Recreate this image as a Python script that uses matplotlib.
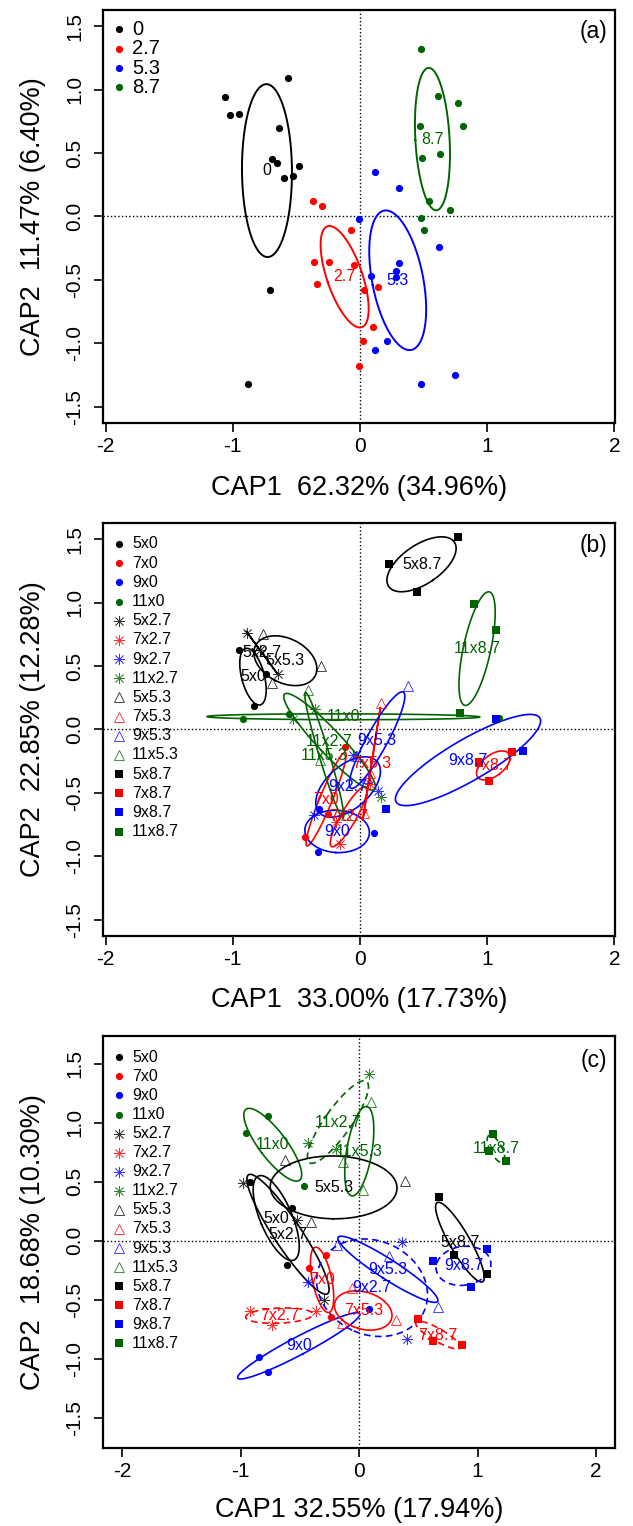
import numpy as np
import matplotlib
matplotlib.use("Agg")
import matplotlib.pyplot as plt

plt.rcParams['font.family'] = ['Liberation Sans', 'DejaVu Sans']
plt.rcParams['axes.unicode_minus'] = False

# ---------------- Panel (a): treatment groups (12 samples each) ----------------
A_GROUPS = ["0", "2.7", "5.3", "8.7"]
A0_X = [-1.06, -1.02, -0.95, -0.57, -0.64, -0.69, -0.65, -0.48, -0.60, -0.53, -0.71, -0.88]
A0_Y = [0.94, 0.80, 0.81, 1.09, 0.70, 0.45, 0.42, 0.40, 0.30, 0.32, -0.58, -1.32]
A27_X = [-0.37, -0.30, -0.07, -0.36, -0.24, -0.05, -0.34, 0.03, 0.14, 0.10, 0.02, -0.01]
A27_Y = [0.12, 0.08, -0.11, -0.36, -0.36, -0.38, -0.53, -0.58, -0.56, -0.87, -0.98, -1.18]
A53_X = [0.12, 0.31, -0.01, 0.62, 0.31, 0.28, 0.28, 0.09, 0.21, 0.12, 0.48, 0.75]
A53_Y = [0.35, 0.22, -0.02, -0.24, -0.37, -0.43, -0.48, -0.47, -0.98, -1.05, -1.32, -1.25]
A87_X = [0.48, 0.61, 0.77, 0.81, 0.47, 0.63, 0.49, 0.54, 0.71, 0.48, 0.50, 0.35]
A87_Y = [1.32, 0.95, 0.89, 0.71, 0.71, 0.49, 0.46, 0.12, 0.05, -0.01, -0.11, 1.73]
A_X = [A0_X, A27_X, A53_X, A87_X]
A_Y = [A0_Y, A27_Y, A53_Y, A87_Y]

# ---------------- Panels (b) and (c): combination groups (3 samples each) ----------------
BC_GROUPS = ["5x0", "7x0", "9x0", "11x0",
             "5x2.7", "7x2.7", "9x2.7", "11x2.7",
             "5x5.3", "7x5.3", "9x5.3", "11x5.3",
             "5x8.7", "7x8.7", "9x8.7", "11x8.7"]

B_X = [[-0.948, -0.740, -0.837], [-0.115, -0.255, -0.430], [-0.320, -0.333, 0.113], [-0.921, -0.562, 1.092],
       [-0.887, -0.646, -0.790], [-0.155, -0.189, 0.076], [-0.365, 0.139, -0.055], [-0.352, 0.165, -0.530],
       [-0.764, -0.304, -0.693], [0.165, 0.081, 0.029], [0.381, -0.034, 0.055], [-0.412, -0.318, -0.113],
       [0.231, 0.772, 0.449], [0.934, 1.192, 1.018], [0.202, 1.281, 1.066], [0.900, 1.073, 0.790]]
B_Y = [[0.630, 0.436, 0.184], [-0.136, -0.667, -0.845], [-0.630, -0.963, -0.819], [0.081, 0.126, 0.094],
       [0.764, 0.436, 0.630], [-0.903, -0.727, -0.433], [-0.675, -0.483, -0.202], [0.165, -0.535, 0.079],
       [0.756, 0.501, 0.370], [0.210, -0.346, -0.661], [0.344, -0.210, -0.386], [0.310, -0.241, -0.675],
       [1.307, 1.517, 1.084], [-0.262, -0.181, -0.407], [-0.630, -0.171, 0.079], [0.992, 0.787, 0.134]]

C_X = [[-0.924, -0.569, -0.608], [-0.423, -0.282, -0.234], [-0.845, -0.769, 0.085], [-0.952, -0.769, -0.468],
       [-0.980, -0.524, -0.299], [-0.924, -0.735, -0.366], [-0.431, 0.358, 0.400], [0.085, -0.431, -0.192],
       [-0.628, 0.389, -0.408], [-0.059, 0.310, -0.149], [-0.183, 0.248, 0.662], [0.104, -0.135, 0.034],
       [0.673, 0.803, 1.076], [0.499, 0.625, 0.870], [0.625, 1.076, 0.941], [1.127, 1.099, 1.239]]
C_Y = [[0.501, 0.282, -0.203], [-0.231, -0.118, -0.645], [-0.983, -1.115, -0.575], [0.918, 1.059, 0.468],
       [0.490, 0.180, -0.504], [-0.597, -0.710, -0.597], [-0.349, -0.011, -0.834], [1.411, 0.828, 0.783],
       [0.687, 0.510, 0.163], [-0.400, -0.673, -0.701], [-0.034, -0.130, -0.561], [1.177, 0.670, 0.434],
       [0.369, -0.124, -0.279], [-0.665, -0.848, -0.885], [-0.175, -0.068, -0.394], [0.904, 0.763, 0.673]]
C_DASHED = ["7x2.7", "9x2.7", "11x2.7", "7x8.7", "9x8.7", "11x8.7"]

X_TICKS = [-2, -1, 0, 1, 2]
Y_TICKS = [-1.5, -1.0, -0.5, 0.0, 0.5, 1.0, 1.5]

# ---------------- styles ----------------
COL = {"0": "#000000", "2.7": "#FF0000", "5.3": "#0000FF", "8.7": "#006400",
       "5": "#000000", "7": "#FF0000", "9": "#0000FF", "11": "#006400"}
MARK = {"0": dict(marker='o', ms=5.2, mew=0),
        "2.7": dict(marker=(8, 2, 0), ms=8, mew=0.55, alpha=0.8),
        "5.3": dict(marker='^', ms=7, mew=0.6, mfc='none', alpha=0.85),
        "8.7": dict(marker='s', ms=5.2, mew=0)}


def sd_ellipse(x, y, n=240):
    x = np.asarray(x, float)
    y = np.asarray(y, float)
    c = np.cov(x, y)
    vals, vecs = np.linalg.eigh(c)
    vals = np.clip(vals, 0, None)
    t = np.linspace(0, 2 * np.pi, n)
    circ = np.vstack([np.cos(t), np.sin(t)])
    pts = vecs @ (np.sqrt(vals)[:, None] * circ)
    return pts[0] + x.mean(), pts[1] + y.mean()


def style_axes(ax, xlim, ylim, xlabel, ylabel, tag, xlab_y, tag_y):
    ax.set_xlim(*xlim)
    ax.set_ylim(*ylim)
    ax.axhline(0, color='black', ls=':', lw=1.0, zorder=1)
    ax.axvline(0, color='black', ls=':', lw=1.0, zorder=1)
    ax.set_xticks(X_TICKS)
    ax.set_xticklabels([str(v) for v in X_TICKS])
    ax.set_yticks(Y_TICKS)
    ax.set_yticklabels(["%.1f" % v for v in Y_TICKS])
    for s in ax.spines.values():
        s.set_linewidth(1.6)
    ax.tick_params(axis='both', direction='out', length=6.5, width=1.2, labelsize=15)
    ax.tick_params(axis='x', pad=4)
    ax.tick_params(axis='y', pad=7)
    for lbl in ax.get_yticklabels():
        lbl.set_rotation(90)
        lbl.set_va('center')
    ax.set_xlabel(xlabel, fontsize=19.5)
    ax.xaxis.set_label_coords(0.5, xlab_y)
    ax.xaxis.label.set_va('center')
    ax.set_ylabel(ylabel, fontsize=19.5)
    ax.yaxis.set_label_coords(-0.137, 0.5)
    ax.yaxis.label.set_va('center')
    ax.text(0.985, tag_y, tag, transform=ax.transAxes, ha='right', va='center', fontsize=16.5)


fig = plt.figure(figsize=(6.33, 15.26), dpi=100)
L, W = 0.1632, 0.8084

# ---------------- (a) ----------------
axa = fig.add_axes([L, 0.7230, W, 0.2704])
for g, xs, ys in zip(A_GROUPS, A_X, A_Y):
    c = COL[g]
    axa.plot(xs, ys, ls='none', marker='o', ms=5.2, mew=0, color=c, zorder=3)
    ex, ey = sd_ellipse(xs, ys)
    axa.plot(ex, ey, color=c, lw=1.4, zorder=2)
    axa.text(np.mean(xs), np.mean(ys), g, color=c, fontsize=11.5, ha='center', va='center', zorder=4)
for i, g in enumerate(A_GROUPS):
    yy = 1 - 0.0468 - i * 0.0468
    axa.plot([0.0307], [yy], transform=axa.transAxes, marker='o', ms=5.2, mew=0,
             color=COL[g], ls='none', clip_on=False)
    axa.text(0.056, yy, g, transform=axa.transAxes, ha='left', va='center', fontsize=14.5)
style_axes(axa, (-2.019, 2.006), (-1.626, 1.626), "CAP1  62.32% (34.96%)",
           "CAP2  11.47% (6.40%)", "(a)", -0.1575, 0.947)


def combo_panel(ax, XS, YS, dashed, lw):
    for g, xs, ys in zip(BC_GROUPS, XS, YS):
        fac, lev = g.split("x")
        c = COL[fac]
        ax.plot(xs, ys, ls='none', color=c, zorder=3, **MARK[lev])
        ex, ey = sd_ellipse(xs, ys)
        if g in dashed:
            ax.plot(ex, ey, color=c, lw=lw, ls=(0, (4, 2.6)), zorder=2)
        else:
            ax.plot(ex, ey, color=c, lw=lw, zorder=2)
        ax.text(np.mean(xs), np.mean(ys), g, color=c, fontsize=11.5, ha='center', va='center', zorder=4)


def combo_legend(ax, y0, dy):
    for i, g in enumerate(BC_GROUPS):
        fac, lev = g.split("x")
        yy = 1 - y0 - i * dy
        ax.plot([0.0307], [yy], transform=ax.transAxes, ls='none', color=COL[fac],
                clip_on=False, **MARK[lev])
        ax.text(0.056, yy, g, transform=ax.transAxes, ha='left', va='center', fontsize=11.5)


# ---------------- (b) ----------------
axb = fig.add_axes([L, 0.38683, W, 0.27025])
combo_panel(axb, B_X, B_Y, [], 1.2)
combo_legend(axb, 0.0502, 0.0465)
style_axes(axb, (-2.019, 2.006), (-1.626, 1.626), "CAP1  33.00% (17.73%)",
           "CAP2  22.85% (12.28%)", "(b)", -0.155, 0.945)

# ---------------- (c) ----------------
axc = fig.add_axes([L, 0.05131, W, 0.26999])
combo_panel(axc, C_X, C_Y, C_DASHED, 1.2)
combo_legend(axc, 0.0524, 0.0463)
style_axes(axc, (-2.16, 2.16), (-1.755, 1.74), "CAP1 32.55% (17.94%)",
           "CAP2  18.68% (10.30%)", "(c)", -0.150, 0.941)

fig.savefig("out.png", dpi=100)
